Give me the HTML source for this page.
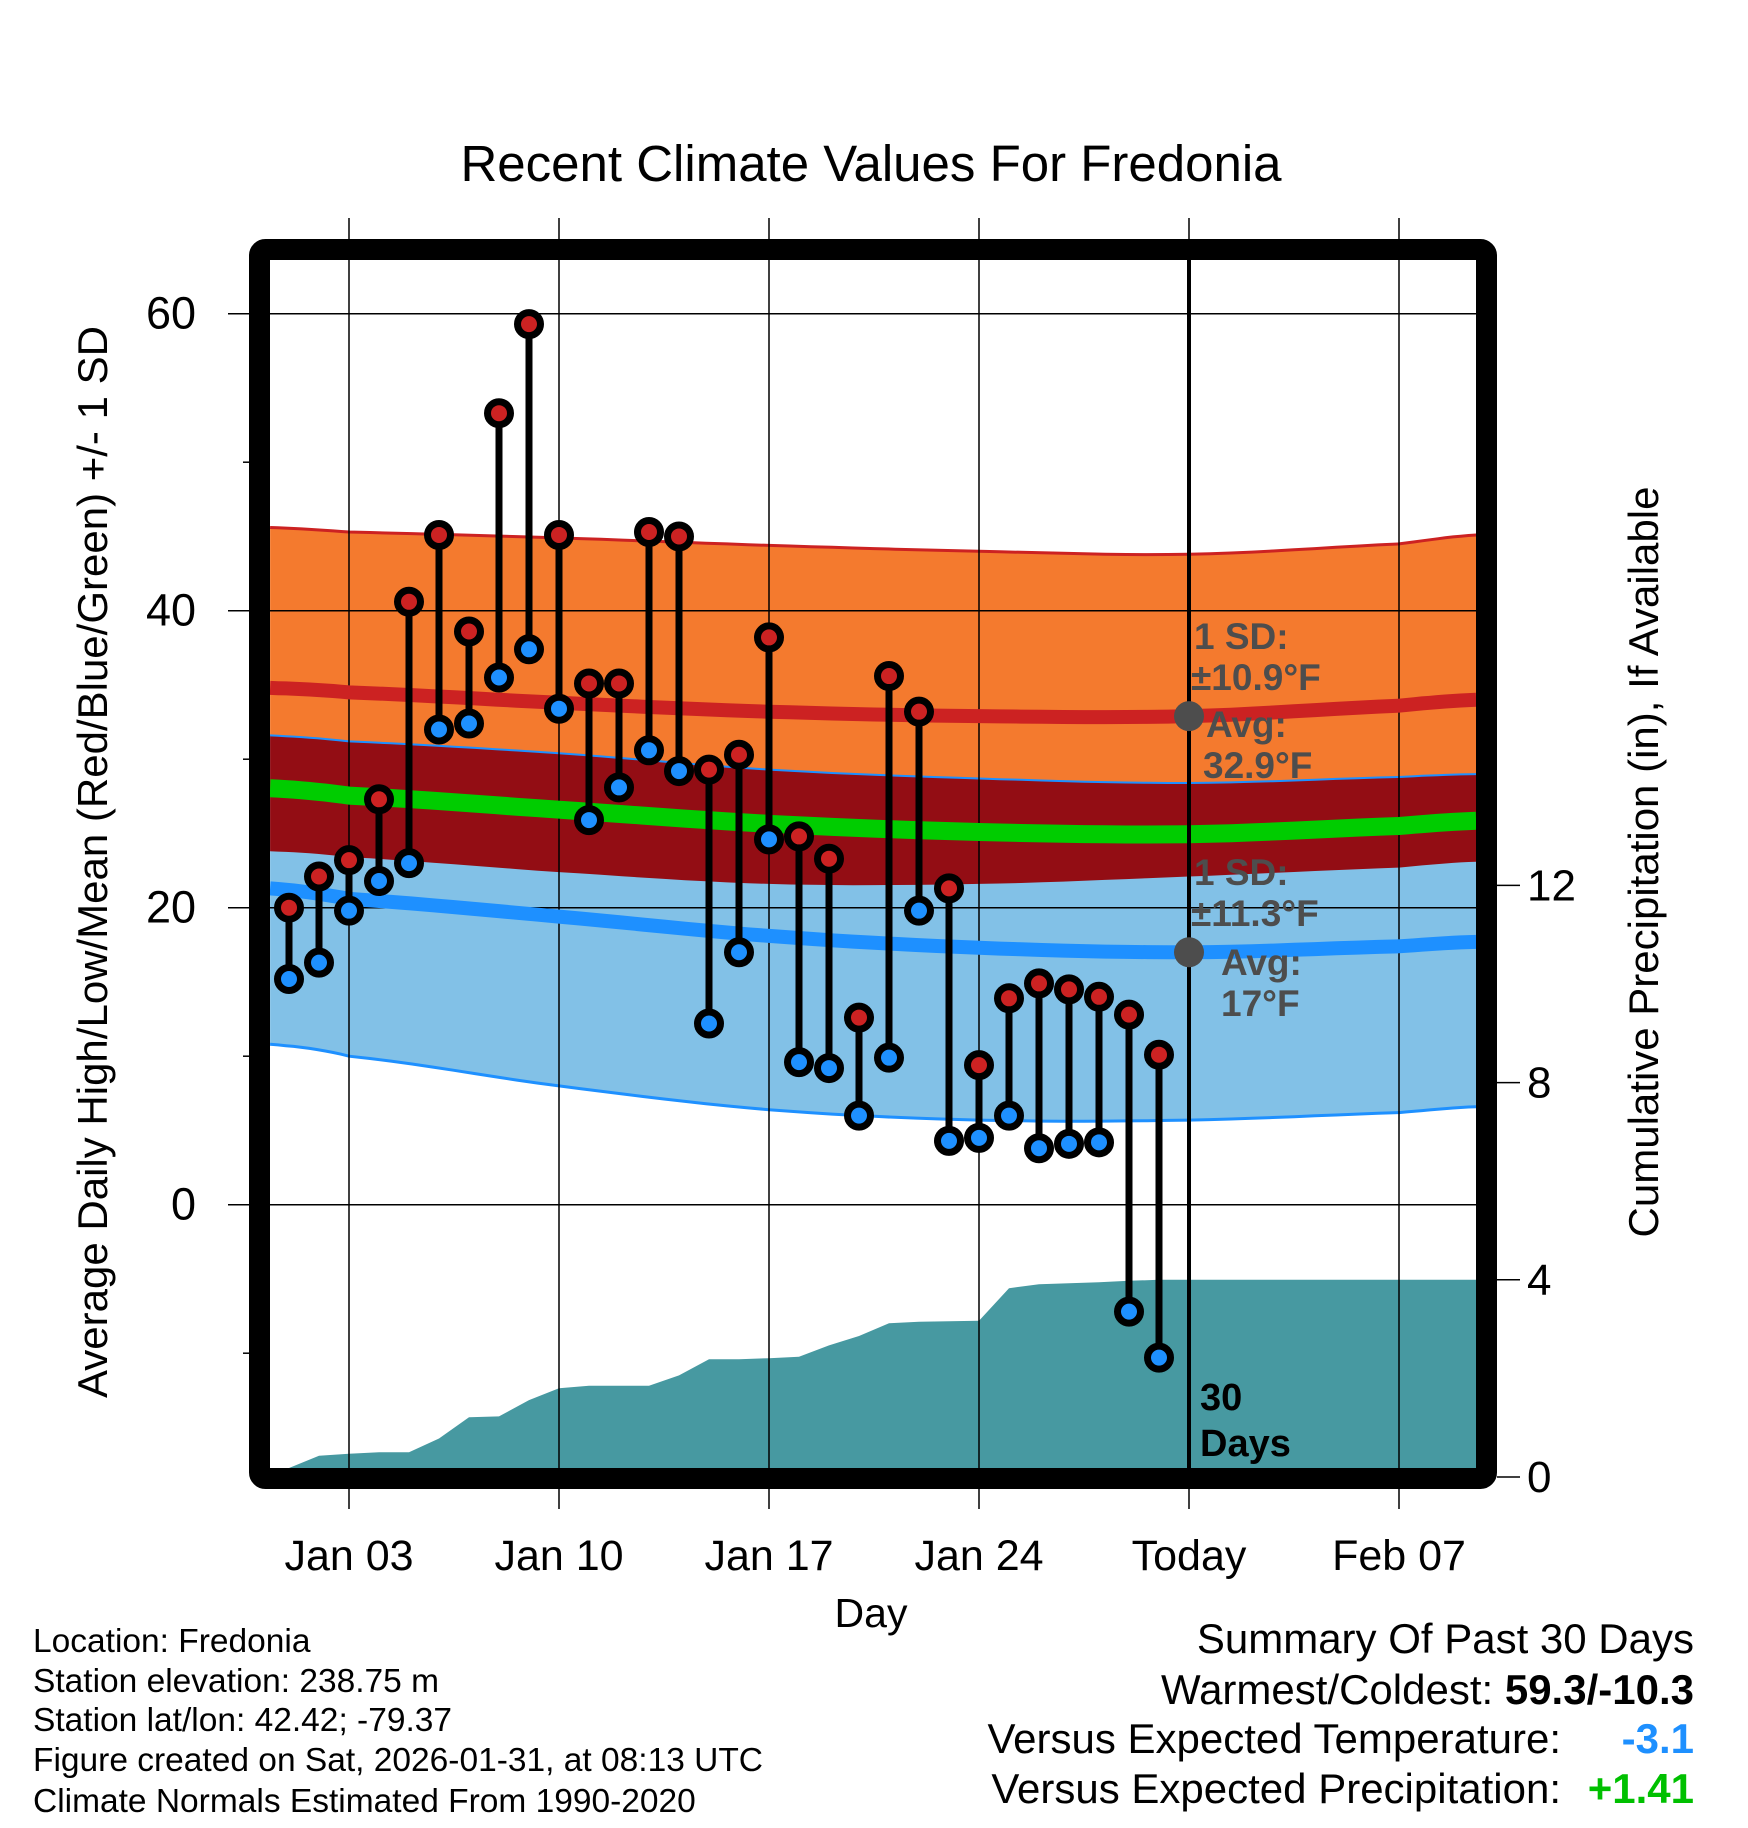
<!DOCTYPE html>
<html><head><meta charset="utf-8"><style>
html,body{margin:0;padding:0;background:#fff;}
svg{display:block;font-family:"Liberation Sans",Arial,sans-serif;}
</style></head><body>
<svg id="chart" width="1748" height="1828" viewBox="0 0 1748 1828" xmlns="http://www.w3.org/2000/svg">
<text x="871" y="181" font-size="51" text-anchor="middle">Recent Climate Values For Fredonia</text>
<g id="bands"></g>
<g id="precip"></g>
<g id="grid"></g>
<g id="lines"></g>
<g id="marks"></g>
<g id="axes"></g>
<rect x="259.5" y="249.5" width="1227" height="1229" fill="none" stroke="#000" stroke-width="21" rx="6"/>
<g fill="#4d4d4d" font-weight="bold" font-size="37">
<text x="1194" y="649">1 SD:</text>
<text x="1191" y="690">±10.9°F</text>
<text x="1206" y="737">Avg:</text>
<text x="1203" y="778">32.9°F</text>
</g>
<g fill="#4d4d4d" font-weight="bold" font-size="37">
<text x="1194" y="885">1 SD:</text>
<text x="1191" y="926">±11.3°F</text>
<text x="1221" y="975">Avg:</text>
<text x="1221" y="1016">17°F</text>
</g>
<g font-weight="bold" font-size="38">
<text x="1200" y="1410">30</text>
<text x="1200" y="1456">Days</text>
</g>
<text font-size="42" text-anchor="middle" transform="translate(107,862) rotate(-90)">Average Daily High/Low/Mean (Red/Blue/Green) +/- 1 SD</text>
<text font-size="42" text-anchor="middle" transform="translate(1658,862) rotate(-90)">Cumulative Precipitation (in), If Available</text>
<text x="871" y="1627" font-size="41" text-anchor="middle">Day</text>
<g font-size="33.5">
<text x="33" y="1652">Location: Fredonia</text>
<text x="33" y="1692">Station elevation: 238.75 m</text>
<text x="33" y="1731">Station lat/lon: 42.42; -79.37</text>
<text x="33" y="1771">Figure created on Sat, 2026-01-31, at 08:13 UTC</text>
<text x="33" y="1812">Climate Normals Estimated From 1990-2020</text>
</g>
<g font-size="42" text-anchor="end">
<text x="1694" y="1653">Summary Of Past 30 Days</text>
<text x="1694" y="1704">Warmest/Coldest: <tspan font-weight="bold">59.3/-10.3</tspan></text>
<text x="1561" y="1753">Versus Expected Temperature:</text>
<text x="1694" y="1753" font-weight="bold" fill="#1e90ff">-3.1</text>
<text x="1561" y="1803">Versus Expected Precipitation:</text>
<text x="1694" y="1803" font-weight="bold" fill="#00c000">+1.41</text>
</g>
</svg>
<script>
const days = [1,2,3,4,5,6,7,8,9,10,11,12,13,14,15,16,17,18,19,20,21,22,23,24,25,26,27,28,29,30];
const highs = [20.0,22.1,23.2,27.3,40.6,45.1,38.6,53.3,59.3,45.1,35.1,35.1,45.3,45.0,29.3,30.3,38.2,24.8,23.3,12.6,35.6,33.2,21.3,9.4,13.9,14.9,14.5,14.0,12.8,10.1];
const lows = [15.2,16.3,19.8,21.8,23.0,32.0,32.4,35.5,37.4,33.4,25.9,28.1,30.6,29.2,12.2,17.0,24.6,9.6,9.2,6.0,9.9,19.8,4.3,4.5,6.0,3.8,4.1,4.2,-7.2,-10.3];
const precipCum = [0,0.43,0.47,0.50,0.50,0.78,1.21,1.23,1.56,1.80,1.85,1.85,1.85,2.06,2.39,2.39,2.41,2.44,2.67,2.86,3.12,3.15,3.16,3.17,3.83,3.91,3.93,3.95,3.98,4.0];
const normDays = [0.37,3,10,17,24,31,38,40.57];
const hiPlus = [45.6,45.3,44.9,44.4,44.0,43.8,44.5,45.1];
const hiMean = [34.8,34.5,33.8,33.2,32.9,32.9,33.6,34.0];
const hiMinus = [23.8,23.4,22.4,21.6,21.6,22.1,22.7,23.1];
const loPlus = [31.6,31.2,30.4,29.3,28.7,28.4,28.8,29.0];
const loMean = [21.3,20.6,19.4,18.1,17.3,17.0,17.4,17.7];
const loMinus = [10.8,10.0,8.0,6.4,5.7,5.7,6.2,6.6];
const xTickDays = [3,10,17,24,31,38];
const xTickLabels = ["Jan 03","Jan 10","Jan 17","Jan 24","Today","Feb 07"];
const yTicks = [60,40,20,0];
const yMinor = [50,30,10,-10];
const pTicks = [0,4,8,12];
const todayDay = 31;
const todayHiAvg = 32.9;
const todayLoAvg = 17;

const NS="http://www.w3.org/2000/svg";
const X0=270, X1=1476, Y0=260, Y1=1468;
function xs(d){return 289+(d-1)*30;}
function ys(t){return 1204.7-t*14.85;}
function yp(p){return 1477-p*49.3;}
function mk(parent,tag,attrs){const e=document.createElementNS(NS,tag);for(const k in attrs)e.setAttribute(k,attrs[k]);document.getElementById(parent).appendChild(e);return e;}
function curve(vals){
  const pts=[];
  for(let i=0;i<normDays.length-1;i++){
    const p0=vals[Math.max(i-1,0)],p1=vals[i],p2=vals[i+1],p3=vals[Math.min(i+2,vals.length-1)];
    const d1=normDays[i],d2=normDays[i+1];
    for(let s=0;s<10;s++){const t=s/10;
      const v=0.5*((2*p1)+(-p0+p2)*t+(2*p0-5*p1+4*p2-p3)*t*t+(-p0+3*p1-3*p2+p3)*t*t*t);
      pts.push([xs(d1+(d2-d1)*t),ys(v)]);}
  }
  pts.push([xs(normDays[normDays.length-1]),ys(vals[vals.length-1])]);
  return pts;
}
function band(top,bot){const a=curve(top),b=curve(bot).reverse();return "M"+a.concat(b).map(p=>p[0].toFixed(1)+","+p[1].toFixed(1)).join("L")+"Z";}
function line(vals){return "M"+curve(vals).map(p=>p[0].toFixed(1)+","+p[1].toFixed(1)).join("L");}

let e;
e=mk("bands","path",{d:band(hiPlus,hiMinus),fill:"#f47a2e"});


e=mk("bands","path",{d:band(loPlus,loMinus),fill:"#82c1e7"});


e=mk("bands","path",{d:band(loPlus,hiMinus),fill:"#930d14"});


e=mk("bands","path",{d:line(hiPlus),fill:"none",stroke:"#cc2222","stroke-width":3});


e=mk("bands","path",{d:line(loMinus),fill:"none",stroke:"#1e90ff","stroke-width":3});


e=mk("bands","path",{d:line(loPlus),fill:"none",stroke:"#1e90ff","stroke-width":2});



let pd="M"+xs(days[0])+","+Y1;
days.forEach((d,i)=>{pd+="L"+xs(d)+","+Math.min(yp(precipCum[i]),Y1).toFixed(1);});
pd+="L"+X1+","+yp(precipCum[precipCum.length-1]).toFixed(1)+"L"+X1+","+Y1+"Z";
e=mk("precip","path",{d:pd,fill:"#4799a1"});



xTickDays.forEach(d=>{
  e=mk("grid","line",{x1:xs(d),x2:xs(d),y1:218,y2:1509,stroke:"#000","stroke-width":1.5});
  
  
});
yTicks.forEach(t=>{
  e=mk("grid","line",{x1:228,x2:X1,y1:ys(t),y2:ys(t),stroke:"#000","stroke-width":1.5});
  
  
});
yMinor.forEach(t=>{
  e=mk("grid","line",{x1:243,x2:252,y1:ys(t),y2:ys(t),stroke:"#000","stroke-width":1.5});
  
  
});

e=mk("lines","path",{d:line(hiMean),fill:"none",stroke:"#cc2222","stroke-width":14});


e=mk("lines","path",{d:line(loMean),fill:"none",stroke:"#1e90ff","stroke-width":14});


const midMean=hiMean.map((v,i)=>(v+loMean[i])/2);
e=mk("lines","path",{d:line(midMean),fill:"none",stroke:"#00cc00","stroke-width":18});



days.forEach((d,i)=>{
  e=mk("marks","line",{x1:xs(d),x2:xs(d),y1:ys(highs[i]),y2:ys(lows[i]),stroke:"#000","stroke-width":7});
  
  
  e=mk("marks","circle",{cx:xs(d),cy:ys(highs[i]),r:11.5,fill:"#cc2222",stroke:"#000","stroke-width":7});
  
  
  e=mk("marks","circle",{cx:xs(d),cy:ys(lows[i]),r:11.5,fill:"#1e90ff",stroke:"#000","stroke-width":7});
  
  
});
e=mk("marks","line",{x1:xs(todayDay),x2:xs(todayDay),y1:Y0,y2:Y1,stroke:"#000","stroke-width":4});


e=mk("marks","circle",{cx:xs(todayDay),cy:ys(todayHiAvg),r:15,fill:"#4d4d4d"});


e=mk("marks","circle",{cx:xs(todayDay),cy:ys(todayLoAvg),r:15,fill:"#4d4d4d"});



yTicks.forEach(t=>{
  e=mk("axes","text",{x:196,y:ys(t)+15,"font-size":45,"text-anchor":"end"});
  e.textContent=t;
  
  
});
xTickDays.forEach((d,i)=>{
  e=mk("axes","text",{x:xs(d),y:1570,"font-size":43,"text-anchor":"middle"});
  e.textContent=xTickLabels[i];
  
  
});
pTicks.forEach(p=>{
  e=mk("axes","line",{x1:1497,x2:1520,y1:yp(p),y2:yp(p),stroke:"#000","stroke-width":1.5});
  
  
  e=mk("axes","text",{x:1527,y:yp(p)+15,"font-size":44});
  e.textContent=p;
  
  
});
</script>
</body></html>
